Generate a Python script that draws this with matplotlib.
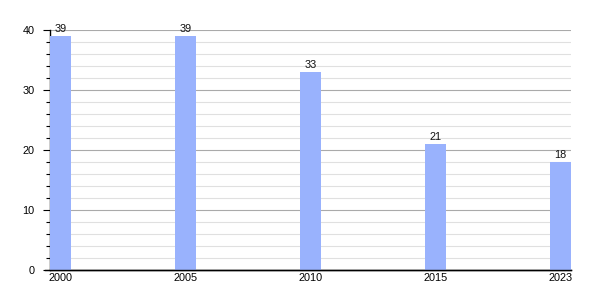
import matplotlib.pyplot as plt
from matplotlib.ticker import MultipleLocator

years = ['2000', '2005', '2010', '2015', '2023']
values = [39, 39, 33, 21, 18]

BAR_COLOR = '#99b2fd'
BAR_W = 0.168

plt.rcParams['font.family'] = ['Liberation Sans', 'DejaVu Sans']

fig = plt.figure(figsize=(6, 3), dpi=100)
ax = fig.add_axes([0.0833, 0.1, 0.8684, 0.8])

pos = list(range(len(years)))
bars = ax.bar(pos, values, width=BAR_W, align='edge', color=BAR_COLOR, zorder=3)
for b, v in zip(bars, values):
    ax.text(b.get_x() + b.get_width() / 2, v + 0.4, str(v), ha='center',
            va='bottom', fontsize=7.8, color='#111111', clip_on=False)

ax.set_xlim(0, len(years) - 1 + BAR_W)
ax.set_ylim(0, 40)
ax.set_xticks([p + BAR_W / 2 for p in pos])
ax.set_xticklabels(years)
ax.tick_params(axis='x', length=0, pad=2, labelsize=7.8)

ax.yaxis.set_major_locator(MultipleLocator(10))
ax.yaxis.set_minor_locator(MultipleLocator(2))
ax.tick_params(axis='y', which='major', length=5, width=0.8, labelsize=7.8, pad=6)
ax.tick_params(axis='y', which='minor', length=3, width=0.8)
ax.grid(axis='y', which='major', color='#aaaaaa', lw=0.8, zorder=0)
ax.grid(axis='y', which='minor', color='#e0e0e0', lw=0.8, zorder=0)

for s in ['top', 'right']:
    ax.spines[s].set_visible(False)
ax.spines['left'].set_linewidth(1)
ax.spines['bottom'].set_linewidth(1)
# baseline runs a little past the y axis, as in the original
ax.axhline(0, xmin=-0.01, xmax=1, color='black', lw=1, clip_on=False, zorder=4)

fig.savefig('out.png', dpi=100, facecolor='white')
